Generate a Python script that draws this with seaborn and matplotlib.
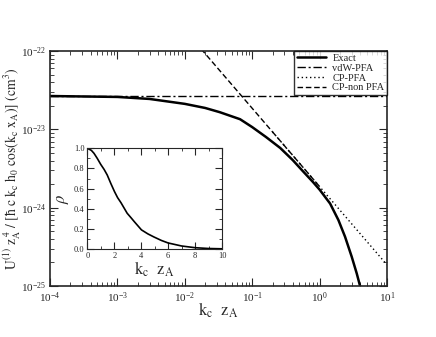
import numpy as np
import pandas as pd
import matplotlib
matplotlib.use('Agg')
import matplotlib.pyplot as plt
import seaborn as sns

sns.set_style('ticks')
plt.rcParams['font.family'] = 'serif'
plt.rcParams['font.serif'] = ['Liberation Serif', 'DejaVu Serif']
plt.rcParams['mathtext.fontset'] = 'stix'

# values
kz_exact = [1e-4, 1e-3, 3e-3, 0.01, 0.02, 0.033, 0.066, 0.1, 0.16, 0.26, 0.4, 0.55,
            0.8, 1.0, 1.43, 1.9, 2.38, 2.99, 3.55, 3.98]
u_exact = [2.67e-23, 2.6e-23, 2.45e-23, 2.12e-23, 1.88e-23, 1.66e-23, 1.35e-23, 1.07e-23,
           8.0e-24, 5.8e-24, 4.05e-24, 3.0e-24, 2.12e-24, 1.7e-24, 1.13e-24, 6.95e-25,
           4.27e-25, 2.37e-25, 1.45e-25, 1.0e-25]
kz_vdw = [1e-4, 10]
u_vdw = [2.66e-23, 2.66e-23]
kz_cp = [0.2, 10]
u_cp = [9.3e-24, 1.86e-25]
kz_nonpfa = [0.01, 1.0]
u_nonpfa = [1.86e-22, 1.86e-24]

kz_rho = [0, 0.3, 0.5, 0.74, 1.0, 1.25, 1.48, 1.75, 2.02, 2.25, 2.5, 2.96, 3.25, 3.5,
          4.02, 4.5, 4.94, 5.5, 6, 7, 8, 9, 10]
rho = [1.0, 0.98, 0.95, 0.90, 0.84, 0.79, 0.735, 0.65, 0.57, 0.51, 0.46, 0.355, 0.31, 0.27,
       0.19, 0.15, 0.12, 0.085, 0.06, 0.03, 0.013, 0.005, 0.002]

fig = plt.figure(figsize=(4.36, 3.37), dpi=100)
ax = fig.add_axes([0.1147, 0.1513, 0.773, 0.697])

sns.lineplot(x=kz_exact, y=u_exact, ax=ax, color='black', lw=1.8, label='Exact', estimator=None, sort=False)
sns.lineplot(x=kz_vdw, y=u_vdw, ax=ax, color='black', lw=1.0, label='vdW-PFA', estimator=None)
ax.lines[-1].set_linestyle((0, (6, 2, 1.5, 2)))
sns.lineplot(x=kz_cp, y=u_cp, ax=ax, color='black', lw=1.0, label='CP-PFA', estimator=None)
ax.lines[-1].set_linestyle((0, (1, 2)))
sns.lineplot(x=kz_nonpfa, y=u_nonpfa, ax=ax, color='black', lw=1.0, label='CP-non PFA', estimator=None)
ax.lines[-1].set_linestyle((0, (4, 2)))

ax.set_xscale('log')
ax.set_yscale('log')
ax.set_xlim(1e-4, 10)
ax.set_ylim(1e-25, 1e-22)
ax.tick_params(which='both', direction='in', top=True, right=True, labelsize=8, pad=3)
ax.tick_params(which='major', length=6)
ax.tick_params(which='minor', length=3)
ax.set_xlabel(r'$\mathrm{k_c\ \ z_A}$', fontsize=12, labelpad=-3)
ax.set_ylabel(r'$\mathrm{U^{(1)}\ z_A^{\ 4}\ /\ [\hbar\ c\ k_c\ h_0\ cos(k_c\ x_A)]\ (cm^3)}$',
              fontsize=9.8)
ax.yaxis.set_label_coords(-0.08, 0.5)
for s in ax.spines.values():
    s.set_linewidth(1.2)

leg = ax.legend(loc='upper right', fontsize=7.5, frameon=True, fancybox=False,
                borderaxespad=0, handlelength=2.8, handletextpad=0.6,
                labelspacing=0.05, borderpad=0.25)
leg.get_frame().set_edgecolor('black')
leg.get_frame().set_linewidth(1.0)

# inset
ins = fig.add_axes([0.2002, 0.2611, 0.309, 0.2988])
sns.lineplot(x=kz_rho, y=rho, ax=ins, color='black', lw=1.2, estimator=None, sort=False)
ins.set_xlim(0, 10)
ins.set_ylim(0, 1)
ins.set_xticks([0, 2, 4, 6, 8, 10])
ins.set_xticks([1, 3, 5, 7, 9], minor=True)
ins.set_yticks([0, 0.2, 0.4, 0.6, 0.8, 1.0])
ins.set_yticks([0.1, 0.3, 0.5, 0.7, 0.9], minor=True)
ins.yaxis.set_major_formatter(matplotlib.ticker.FormatStrFormatter('%.1f'))
ins.tick_params(which='both', direction='in', top=True, right=True, labelsize=6, pad=2)
ins.tick_params(which='major', length=5)
ins.tick_params(which='minor', length=2.5)
ins.set_xlabel(r'$\mathrm{k_c\ \ z_A}$', fontsize=12, labelpad=0)
ins.set_ylabel(r'$\rho$', fontsize=12, labelpad=2)

fig.savefig('out.png', dpi=100)
